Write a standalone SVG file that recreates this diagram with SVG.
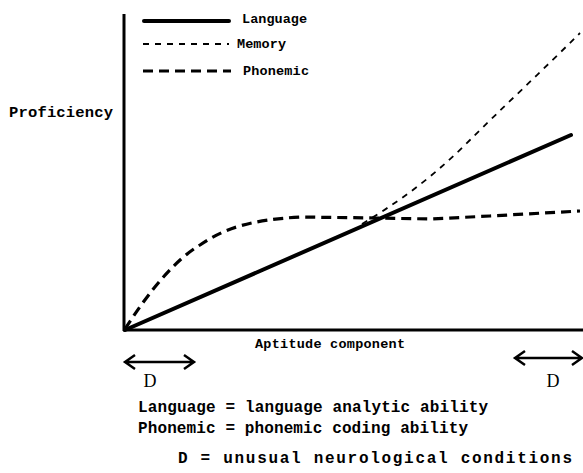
<svg xmlns="http://www.w3.org/2000/svg" width="583" height="473" viewBox="0 0 583 473">
<style>
.mono{font-family:"Liberation Mono","DejaVu Sans Mono",monospace;font-weight:bold;fill:#000}
.serif{font-family:"Liberation Serif","DejaVu Serif",serif;fill:#000}
.lang{fill:none;stroke:#000;stroke-width:4;stroke-linecap:round}
.mem{fill:none;stroke:#000;stroke-width:1.8;stroke-dasharray:6,6}
.pho{fill:none;stroke:#000;stroke-width:3.2;stroke-dasharray:10,6}
.ax{fill:none;stroke:#000;stroke-width:3}
.arr{fill:none;stroke:#000;stroke-width:2.5}
</style>
<rect width="583" height="473" fill="#fff"/>
<g id="axes">
<line class="ax" x1="124" y1="14" x2="124" y2="331"/>
<line class="ax" x1="123" y1="330" x2="583" y2="330"/>
<text class="mono" x="9" y="117" font-size="15.5" textLength="104">Proficiency</text>
<text class="mono" x="255" y="348" font-size="13.5" textLength="150">Aptitude component</text>
</g>
<g id="legend">
<line class="lang" x1="144" y1="21" x2="229" y2="21"/>
<text class="mono" x="242" y="23" font-size="13.5" textLength="65">Language</text>
<line class="mem" x1="143" y1="44" x2="229" y2="44"/>
<text class="mono" x="237" y="48" font-size="13.5" textLength="49">Memory</text>
<line class="pho" x1="143" y1="71" x2="231" y2="71"/>
<text class="mono" x="243" y="75" font-size="13.5" textLength="66">Phonemic</text>
</g>
<g id="curves">
<path class="pho" d="M125,329 C150,290 175,260 200,245 C225,228 250,220 300,217 L375,218 L430,219 L490,216 L580,211"/>
<path class="mem" d="M362,224 C410,195 440,170 470,140 S545,68 580,33"/>
<line class="lang" x1="125" y1="330" x2="571" y2="135"/>
</g>
<g id="D-ranges">
<path class="arr" d="M125,362 H194 M135,355 L125,362 L135,369 M184,355 L194,362 L184,369"/>
<text class="serif" x="150" y="387" font-size="18" text-anchor="middle">D</text>
<path class="arr" d="M515,358 H582 M525,351 L515,358 L525,365 M572,351 L582,358 L572,365"/>
<text class="serif" x="553" y="387" font-size="18" text-anchor="middle">D</text>
</g>
<g id="key">
<text class="mono" x="138" y="412" font-size="16" textLength="350">Language = language analytic ability</text>
<text class="mono" x="138" y="433" font-size="16" textLength="330">Phonemic = phonemic coding ability</text>
<text class="mono" x="178" y="463" font-size="16" textLength="394">D = unusual neurological conditions</text>
</g>
</svg>
